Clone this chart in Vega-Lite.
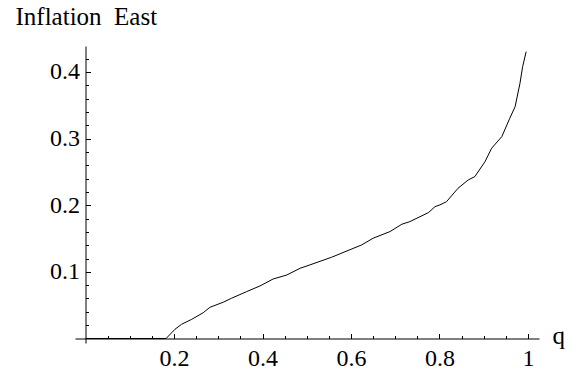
{
  "$schema": "https://vega.github.io/schema/vega-lite/v6.json",
  "width": 464,
  "height": 297,
  "autosize": "none",
  "padding": {"left": 75, "top": 46, "right": 40, "bottom": 34},
  "background": "white",
  "config": {"view": {"stroke": null}, "axis": {"labelFont": "Liberation Serif", "titleFont": "Liberation Serif", "labelColor": "black", "titleColor": "black", "domainColor": "black", "tickColor": "black", "grid": false}},
  "data": {"values": [
    {"q": 0.0, "v": 0.0}, {"q": 0.1, "v": 0.0}, {"q": 0.182, "v": 0.0},
    {"q": 0.202, "v": 0.0138}, {"q": 0.217, "v": 0.0213}, {"q": 0.240, "v": 0.0288},
    {"q": 0.266, "v": 0.0387}, {"q": 0.281, "v": 0.0468}, {"q": 0.311, "v": 0.0544},
    {"q": 0.330, "v": 0.0604}, {"q": 0.364, "v": 0.0703}, {"q": 0.394, "v": 0.0788},
    {"q": 0.424, "v": 0.0893}, {"q": 0.455, "v": 0.0953}, {"q": 0.485, "v": 0.1054},
    {"q": 0.507, "v": 0.1104}, {"q": 0.556, "v": 0.1219}, {"q": 0.624, "v": 0.1404},
    {"q": 0.650, "v": 0.1505}, {"q": 0.688, "v": 0.1604}, {"q": 0.715, "v": 0.1715},
    {"q": 0.733, "v": 0.1754}, {"q": 0.775, "v": 0.1889}, {"q": 0.790, "v": 0.1979},
    {"q": 0.801, "v": 0.2005}, {"q": 0.816, "v": 0.2054}, {"q": 0.842, "v": 0.2255},
    {"q": 0.865, "v": 0.238}, {"q": 0.880, "v": 0.243}, {"q": 0.903, "v": 0.2655},
    {"q": 0.918, "v": 0.2856}, {"q": 0.941, "v": 0.303}, {"q": 0.959, "v": 0.3306},
    {"q": 0.971, "v": 0.348}, {"q": 0.982, "v": 0.383}, {"q": 0.988, "v": 0.408},
    {"q": 0.996, "v": 0.4306}
  ]},
  "layer": [
    {
      "mark": {"type": "line", "color": "black", "strokeWidth": 1},
      "encoding": {
        "x": {"field": "q", "type": "quantitative", "scale": {"domain": [-0.024, 1.025], "nice": false, "zero": false},
          "axis": {"orient": "bottom", "offset": -4.5, "values": [0.2, 0.4, 0.6, 0.8, 1], "format": ".1~f", "tickSize": -5, "labelFontSize": 24, "labelPadding": 13, "labelFlush": false, "labelOverlap": false,
            "title": "q", "titleFontSize": 25, "titleFontWeight": "normal", "titleAnchor": null, "titleAlign": "left", "titleBaseline": "alphabetic", "titleX": 477, "titleY": 5}},
        "y": {"field": "v", "type": "quantitative", "scale": {"domain": [-0.0068, 0.439], "nice": false, "zero": false},
          "axis": {"orient": "left", "offset": -10.5, "values": [0.1, 0.2, 0.3, 0.4], "format": ".1~f", "tickSize": -5, "labelFontSize": 24, "labelPadding": 11, "labelFlush": false, "labelOverlap": false, "labelBaseline": "middle",
            "title": "Inflation\u00a0 East", "titleFontSize": 25, "titleFontWeight": "normal", "titleAngle": 0, "titleAnchor": null, "titleAlign": "left", "titleBaseline": "alphabetic", "titleX": -70.5, "titleY": -22}}
      }
    },
    {
      "mark": {"type": "line", "strokeOpacity": 0},
      "encoding": {
        "x": {"field": "q", "type": "quantitative", "scale": {"domain": [-0.024, 1.025], "nice": false, "zero": false},
          "axis": {"orient": "bottom", "offset": -4.5, "values": [0.05, 0.1, 0.15, 0.25, 0.3, 0.35, 0.45, 0.5, 0.55, 0.65, 0.7, 0.75, 0.85, 0.9, 0.95], "labels": false, "domain": false, "tickSize": -3, "title": null}},
        "y": {"field": "v", "type": "quantitative", "scale": {"domain": [-0.0068, 0.439], "nice": false, "zero": false},
          "axis": {"orient": "left", "offset": -10.5, "values": [0.02, 0.04, 0.06, 0.08, 0.12, 0.14, 0.16, 0.18, 0.22, 0.24, 0.26, 0.28, 0.32, 0.34, 0.36, 0.38, 0.42, 0.44], "labels": false, "domain": false, "tickSize": -3, "title": null}}
      }
    }
  ],
  "resolve": {"axis": {"x": "independent", "y": "independent"}}
}
